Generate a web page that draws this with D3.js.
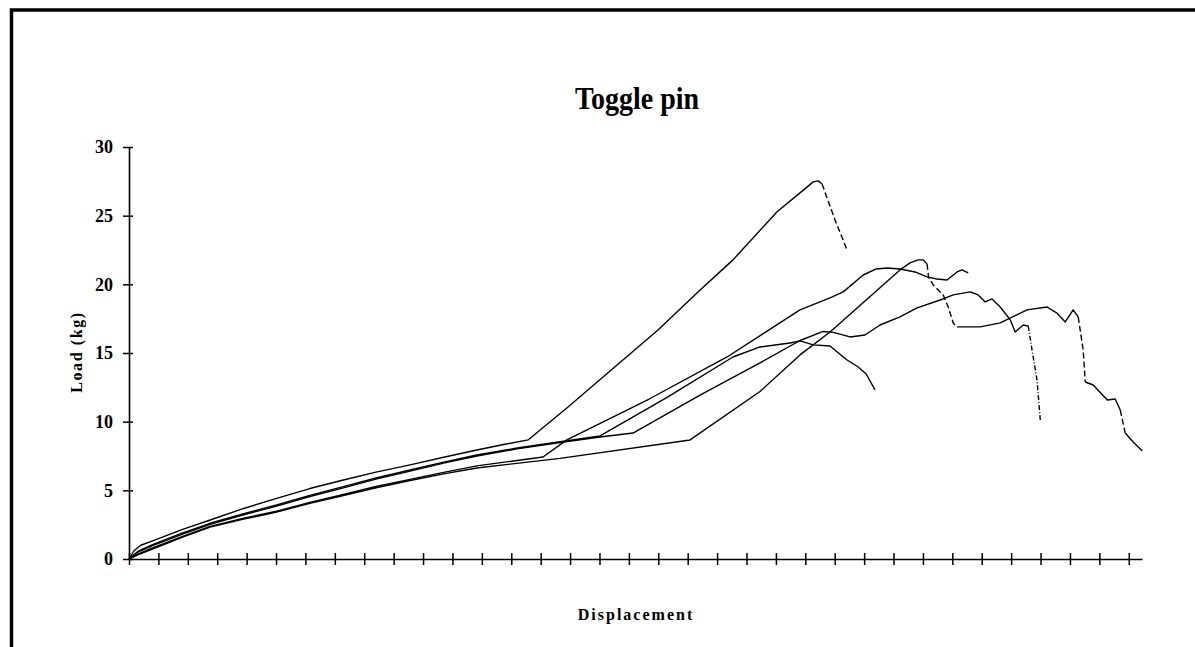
<!DOCTYPE html>
<html>
<head>
<meta charset="utf-8">
<script src="https://cdn.jsdelivr.net/npm/d3@7"></script>
<style>
  html, body { margin: 0; padding: 0; background: #fff; }
  svg { display: block; }
  text { font-family: "Liberation Serif", "Times New Roman", serif; font-weight: bold; fill: #000; }
</style>
</head>
<body>
<svg id="chart" width="1195" height="647"></svg>
<script>
// ---- data ----
const chartTitle = "Toggle pin";
const xLabel = "Displacement";
const yLabel = "Load (kg)";
const yTicks = [0, 5, 10, 15, 20, 25, 30];
const xTicks = d3.range(0, 35);   // unlabeled category ticks

const seriesA = [[0,0],[0.17,0.6],[0.4,1.0],[0.85,1.35],[1.8,2.14],[2.76,2.84],[3.9,3.68],[5.02,4.42],[6.15,5.13],[7.29,5.75],[8.4,6.33],[9.56,6.85],[10.7,7.41],[11.83,7.94],[12.7,8.32],[13.57,8.67],
  [14.89,11.0],[17.99,16.68],[19.35,19.45],[20.54,21.78],[22.04,25.28],[22.82,26.66],[23.27,27.46],[23.44,27.53],[23.57,27.31],[23.74,26.29],[24.01,24.69],[24.42,22.51]];
const seriesB = [[0,0],[0.3,0.55],[0.8,1.05],[1.8,1.88],[2.76,2.6],[3.9,3.3],[5.02,3.93],[6.15,4.63],[7.29,5.27],[8.4,5.9],[9.56,6.48],[10.7,7.05],[11.83,7.57],[13.2,8.08],[14.66,8.54],[16.02,8.96],
  [18.27,11.73],[20.54,14.71],[21.46,15.44],[22.48,15.73],[22.82,15.88],[23.27,15.59],[23.84,15.51],[24.42,14.49],[24.8,13.98],[25.07,13.47],[25.37,12.31]];
const seriesC = [[0,0],[0.3,0.35],[0.8,0.8],[1.8,1.63],[2.76,2.38],[3.9,2.97],[5.02,3.48],[6.15,4.12],[7.29,4.7],[8.4,5.28],[9.56,5.8],[10.7,6.31],[11.83,6.78],[14.08,7.43],
  [14.89,8.67],[17.69,11.65],[20.34,14.71],[22.82,18.14],[23.84,19.01],[24.29,19.45],[24.97,20.68],[25.41,21.12],[25.78,21.19],[26.22,21.12],[26.73,20.9],[27.14,20.54],[27.48,20.39],[27.82,20.32],[28.16,20.9],[28.33,21.05],[28.54,20.83]];
const seriesD = [[0,0],[0.3,0.3],[0.8,0.72],[1.8,1.58],[2.76,2.32],[3.9,2.9],[5.02,3.42],[6.15,4.05],[7.29,4.62],[8.4,5.19],[9.56,5.72],[10.7,6.2],[11.83,6.63],[14.66,7.33],[19.08,8.67],
  [21.46,12.2],[22.82,14.86],[23.84,16.53],[26.22,21.05],[26.56,21.56],[26.84,21.78],[27.01,21.78],[27.14,21.49],
  [27.19,20.54],[27.35,19.96],[27.69,19.23],[27.86,18.35],[28.03,17.19],[28.16,16.9],
  [28.95,16.9],[29.63,17.19],[30.54,18.14],[31.22,18.35],[31.56,17.9],[31.84,17.26],[32.11,18.14],[32.28,17.63],
  [32.45,15.22],[32.52,12.89],[32.79,12.67],[33.27,11.58],[33.54,11.65],[33.71,10.85],[33.88,9.18],[34.15,8.52],[34.46,7.87]];
const seriesE = [[0,0],[0.3,0.5],[0.8,0.98],[1.8,1.8],[2.76,2.52],[3.9,3.22],[5.02,3.85],[6.15,4.55],[7.29,5.18],[8.4,5.82],[9.56,6.4],[10.7,6.98],[11.83,7.5],[13.2,8.02],[14.66,8.48],[16.02,8.88],[17.14,9.17],
  [19.42,11.94],[21.46,14.28],[22.82,15.91],[23.61,16.57],[23.95,16.5],[24.52,16.17],[25.03,16.31],[25.54,17.04],[26.22,17.63],[26.8,18.28],[27.59,18.86],[28.03,19.23],[28.61,19.45],[28.88,19.23],[29.12,18.72],[29.35,18.94],[29.63,18.35],[29.97,17.41],[30.14,16.53],[30.41,17.04],[30.58,16.97],[30.71,15.22],[30.88,13.04],[30.99,10.12]];

// ---- rendering options: from which x value a segment is drawn broken (as in the scan) ----
const seriesList = [
  { pts: seriesA, broken: [[23.5, 24.5]], dash: "6,3" },
  { pts: seriesB, broken: [], dash: null },
  { pts: seriesC, broken: [], dash: null },
  { pts: seriesD, broken: [[27.1, 28.1], [32.25, 32.5], [33.7, 33.8]], dash: "6,3" },
  { pts: seriesE, broken: [[30.55, 31]], dash: "5,2,1,2" }
];

const svg = d3.select("#chart");
svg.append("rect").attr("x", 0).attr("y", 0).attr("width", 1195).attr("height", 647).attr("fill", "#fff");
// outer frame (runs off right and bottom edges)
svg.append("rect").attr("x", 11.5).attr("y", 10).attr("width", 1300).attr("height", 800)
  .attr("fill", "none").attr("stroke", "#000").attr("stroke-width", 3.5);

const x = d3.scaleLinear().domain([0, 34.45]).range([129, 1142]);
const y = d3.scaleLinear().domain([0, 30]).range([559, 147]);

// title
svg.append("text").attr("transform", "translate(637,109) scale(1,1.12)").attr("text-anchor", "middle")
  .style("font-size", "28px").text(chartTitle);

// y axis
const yAxis = svg.append("g").attr("transform", `translate(${x(0)},0)`)
  .call(d3.axisLeft(y).tickValues(yTicks).tickSizeInner(6).tickSizeOuter(0).tickPadding(10).tickFormat(d3.format("d")));
yAxis.select(".domain").attr("stroke", "#000").attr("stroke-width", 1.6);
yAxis.selectAll(".tick line").attr("x1", -6).attr("x2", 4).attr("stroke", "#000").attr("stroke-width", 1.5);
yAxis.selectAll(".tick text").style("font-family", "'Liberation Serif', serif").style("font-weight", "bold")
  .style("font-size", "18px").attr("fill", "#000");

// x axis
const xAxis = svg.append("g").attr("transform", `translate(0,${y(0)})`)
  .call(d3.axisBottom(x).tickValues(xTicks).tickSizeInner(6).tickSizeOuter(0).tickFormat(""));
xAxis.select(".domain").attr("stroke", "#000").attr("stroke-width", 1.6);
xAxis.selectAll(".tick line").attr("y1", -6).attr("y2", 6).attr("stroke", "#000").attr("stroke-width", 1.5);

// axis titles
svg.append("text").attr("x", 636).attr("y", 620).attr("text-anchor", "middle")
  .style("font-size", "16px").style("letter-spacing", "2px").text(xLabel);
svg.append("text").attr("transform", "translate(82,352) rotate(-90)").attr("text-anchor", "middle")
  .style("font-size", "16px").style("letter-spacing", "1.6px").text(yLabel);

// series
const line = d3.line().x(d => x(d[0])).y(d => y(d[1])).curve(d3.curveLinear);
const gLines = svg.append("g");
seriesList.forEach(s => {
  const isBroken = i => s.broken.some(r => s.pts[i][0] >= r[0] && s.pts[i][0] < r[1]);
  let pieces = [];
  let cur = null;
  for (let i = 0; i < s.pts.length - 1; i++) {
    const b = isBroken(i);
    if (!cur || cur.b !== b) {
      cur = { b, pts: [s.pts[i]] };
      pieces.push(cur);
    }
    cur.pts.push(s.pts[i + 1]);
  }
  pieces.forEach(p => {
    gLines.append("path").attr("d", line(p.pts))
      .attr("fill", "none").attr("stroke", "#000").attr("stroke-width", 1.4)
      .attr("stroke-linejoin", "round")
      .attr("stroke-dasharray", p.b ? s.dash : null);
  });
});
</script>
</body>
</html>
